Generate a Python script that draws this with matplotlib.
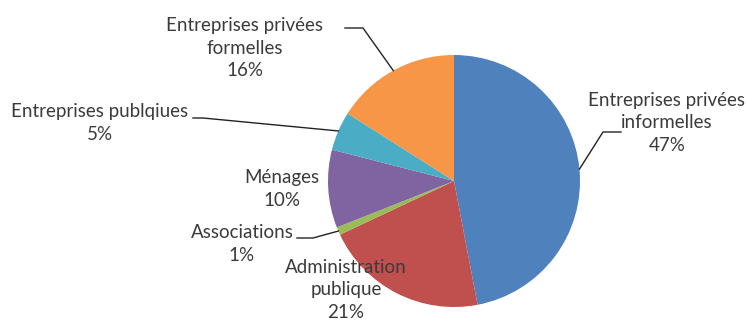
import numpy as np
import matplotlib.pyplot as plt

labels = ["Entreprises privées\ninformelles", "Administration\npublique", "Associations",
          "Ménages", "Entreprises publqiues", "Entreprises privées\nformelles"]
shares = [47, 21, 1, 10, 5, 16]
colors = ["#4F81BD", "#C0504D", "#9BBB59", "#8064A2", "#4BACC6", "#F79646"]

W, H = 746, 321
plt.rcParams['font.family'] = ['Lato', 'DejaVu Sans']
fig = plt.figure(figsize=(W / 100, H / 100), dpi=100)
ax = fig.add_axes([0, 0, 1, 1])

cx, cy, r = 454, H - 181, 126
wedges, _ = ax.pie(shares, colors=colors, startangle=90, counterclock=False,
                   center=(cx, cy), radius=r, frame=True)
ax.set_xlim(0, W)
ax.set_ylim(0, H)
ax.set_aspect('equal')
ax.axis('off')


def edge_point(w):
    a = np.deg2rad((w.theta1 + w.theta2) / 2)
    return cx + r * np.cos(a), cy + r * np.sin(a)


def Y(py):
    return H - py


txt = dict(fontsize=13.5, color="#3b3b3b", ha="center", va="center", linespacing=1.36)

# label text positions (pixel coords from top-left) and leader line elbows
placements = [
    ((667, 123), [(621, 132), (603, 132)]),
    ((346, 290), None),
    ((242, 244), [(297, 238), (313, 238)]),
    ((282, 189), None),
    ((100, 123), [(193, 118), (203, 118)]),
    ((245, 48), [(345, 28), (363, 28)]),
]

for w, lab, val, (pos, elbow) in zip(wedges, labels, shares, placements):
    ax.text(pos[0], Y(pos[1]), f"{lab}\n{val}%", **txt)
    if elbow:
        ex, ey = edge_point(w)
        xs = [p[0] for p in elbow] + [ex]
        ys = [Y(p[1]) for p in elbow] + [ey]
        ax.plot(xs, ys, color="#222222", lw=1.0)

fig.savefig("out.png", dpi=100)
